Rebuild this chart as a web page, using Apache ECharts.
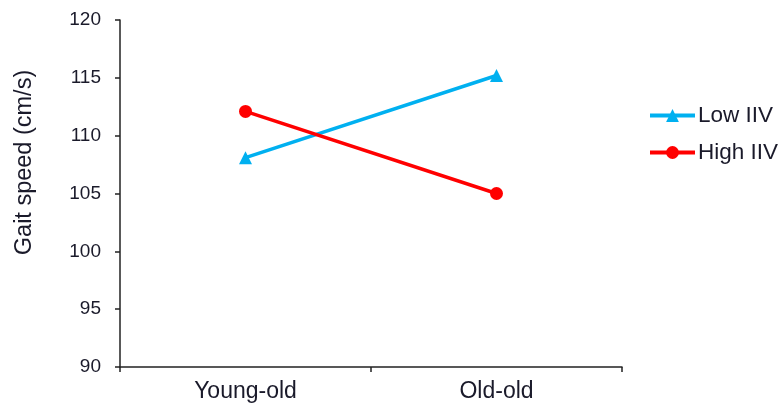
<!DOCTYPE html>
<html><head><meta charset="utf-8">
<script src="https://cdn.jsdelivr.net/npm/echarts@6/dist/echarts.min.js"></script>
<style>html,body{margin:0;padding:0;background:#fff}#c{width:781px;height:407px}</style>
</head><body><div id="c"></div>
<script>
const categories = ['Young-old', 'Old-old'];
const lowIIV = [108.1, 115.2];
const highIIV = [112.1, 105.0];
const yTicks = { min: 90, max: 120, interval: 5 };

const chart = echarts.init(document.getElementById('c'), null, { renderer: 'canvas' });
const font = 'Liberation Sans, Arial, sans-serif';
const txt = '#1a1a2a';
chart.setOption({
  animation: false,
  backgroundColor: '#fff',
  grid: { left: 120, right: 159, top: 20, bottom: 40 },
  legend: {
    orient: 'vertical', left: 643, top: 99,
    itemWidth: 45, itemHeight: 16, itemGap: 14,
    lineStyle: { width: 4 },
    textStyle: { fontFamily: font, fontSize: 22.5, color: txt, padding: [0, 0, 0, -2] },
    data: ['Low IIV', 'High IIV']
  },
  xAxis: {
    type: 'category', data: categories, boundaryGap: true,
    axisLine: { lineStyle: { color: '#222', width: 1.5 } },
    axisTick: { show: true, length: 5, lineStyle: { color: '#222', width: 1.5 } },
    axisLabel: { fontFamily: font, fontSize: 23, color: txt, margin: 13 }
  },
  yAxis: {
    type: 'value', min: yTicks.min, max: yTicks.max, interval: yTicks.interval,
    name: 'Gait speed (cm/s)', nameLocation: 'middle', nameGap: 83,
    nameTextStyle: { fontFamily: font, fontSize: 23.5, color: txt, padding: [0, 0, 0, 62] },
    splitLine: { show: false },
    axisLine: { show: true, lineStyle: { color: '#222', width: 1.5 } },
    axisTick: { show: true, length: 5, lineStyle: { color: '#222', width: 1.5 } },
    axisLabel: { fontFamily: font, fontSize: 19, color: txt, margin: 19 }
  },
  series: [
    {
      name: 'Low IIV', type: 'line', data: lowIIV,
      symbol: 'triangle', symbolSize: 13,
      lineStyle: { color: '#00B0F0', width: 3.5 },
      itemStyle: { color: '#00B0F0' }
    },
    {
      name: 'High IIV', type: 'line', data: highIIV,
      symbol: 'circle', symbolSize: 13,
      lineStyle: { color: '#FF0000', width: 3.5 },
      itemStyle: { color: '#FF0000' }
    }
  ]
});
</script></body></html>
